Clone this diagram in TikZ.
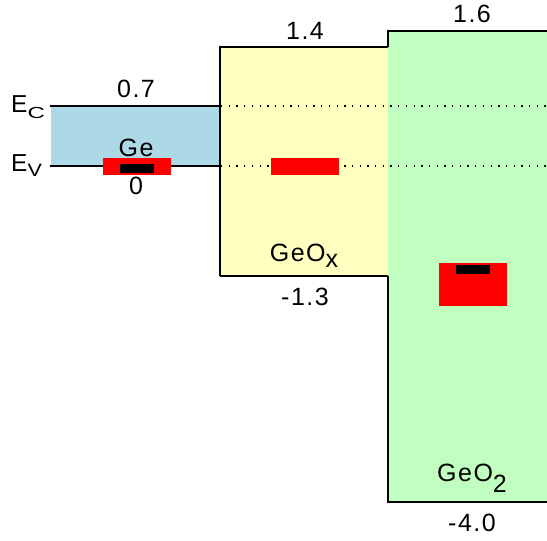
\documentclass[tikz,border=0pt]{standalone}
\usepackage{fontspec}
\setmainfont{Liberation Sans}
\definecolor{gebl}{RGB}{173,216,230}
\definecolor{oxyel}{RGB}{255,255,192}
\definecolor{dioxgr}{RGB}{192,255,192}
\definecolor{defred}{RGB}{255,0,0}
\tikzset{
  lab/.style={font=\fontsize{25}{30}\selectfont\addfontfeature{LetterSpace=6}, inner sep=0pt, anchor=base},
  elab/.style={font=\fontsize{24.5}{28}\selectfont, inner sep=0pt, anchor=base west},
  edge/.style={line width=1.5pt, black},
  dotline/.style={line width=1.6pt, black, dash pattern=on 1.3pt off 6.4pt},
  defect/.style={fill=defred, draw=none},
  core/.style={fill=black, draw=none}
}
\newcommand{\ecsub}{\raisebox{-6.5pt}{\fontsize{16}{18}\selectfont\scalebox{1.5}[1]{C}}}
\newcommand{\evsub}{\raisebox{-5pt}{\fontsize{18}{20}\selectfont\scalebox{1.2}[1]{V}}}
\begin{document}
\begin{tikzpicture}[x=1pt,y=-1pt]
\useasboundingbox (0,0) rectangle (547,541);
% fills
\fill[dioxgr] (388,31) rectangle (548,502);
\fill[oxyel] (220,47) rectangle (388,276);
\fill[gebl] (51,106) rectangle (220,166);
% dotted band-edge continuations
\draw[dotline] (221,106) -- (547,106);
\draw[dotline] (221,166) -- (547,166);
% outlines
\draw[edge] (50,106) -- (220,106);
\draw[edge] (50,166) -- (220,166);
\draw[edge] (220,276) -- (220,47) -- (388,47);
\draw[edge] (220,276) -- (388,276);
\draw[edge] (388,47) -- (388,31) -- (548,31);
\draw[edge] (388,276) -- (388,502) -- (548,502);
% defect levels
\fill[defect] (103,158) rectangle (171,175);
\fill[core] (120,164) rectangle (154,173);
\fill[defect] (271,158) rectangle (339,175);
\fill[defect] (439,263) rectangle (507,306);
\fill[core] (456,265) rectangle (490,274);
% labels
\node[elab] (ec) at (11,112) {E\ecsub};
\node[elab] (ev) at (11,171.5) {E\evsub};
\node[lab] (ge07) at (136,97) {0.7};
\node[lab] (gename) at (136,156) {Ge};
\node[lab] (ge0) at (136,194) {0};
\node[lab] (ox14) at (305,39) {1.4};
\node[lab] (oxname) at (304,261) {GeO\raisebox{-6pt}{x}};
\node[lab] (oxm13) at (305,305) {-1.3};
\node[lab] (di16) at (472,22.5) {1.6};
\node[lab] (diname) at (472,481) {GeO\raisebox{-11.5pt}{2}};
\node[lab] (dim40) at (472,531) {-4.0};
\end{tikzpicture}
\end{document}
